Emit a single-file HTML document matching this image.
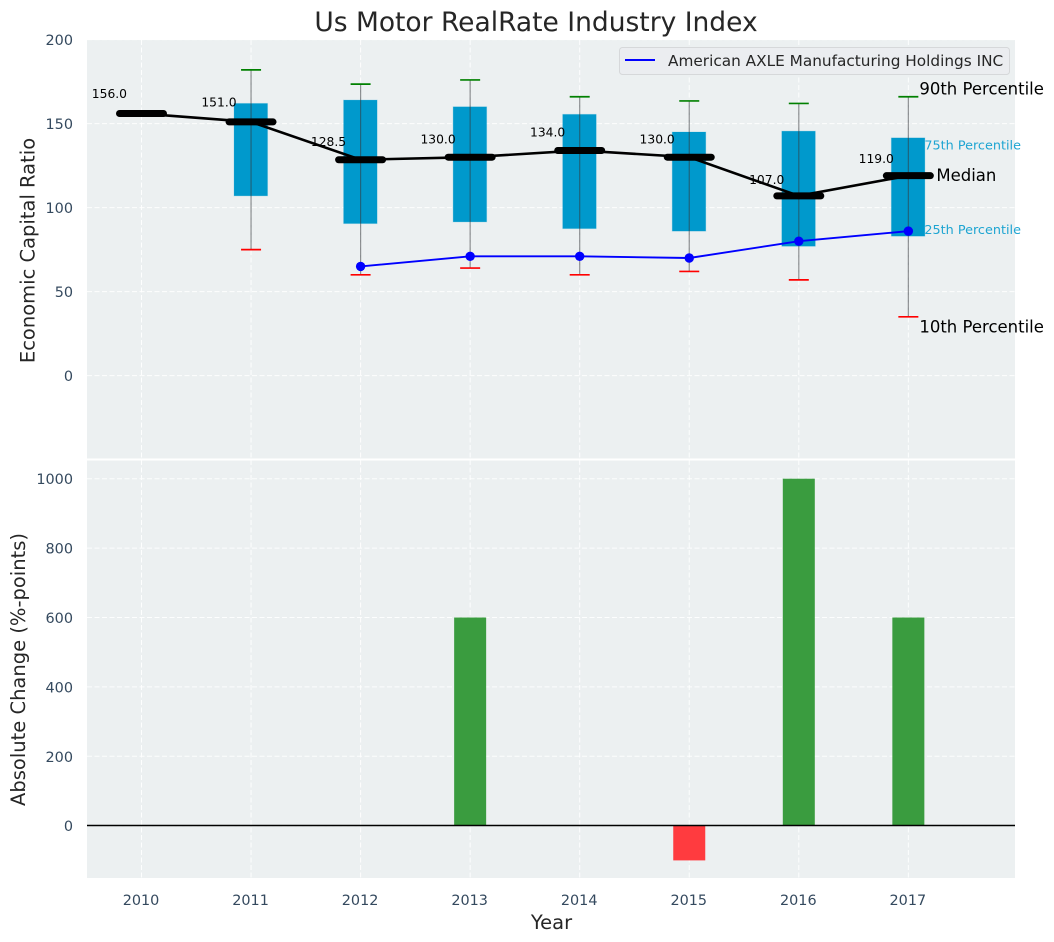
<!DOCTYPE html>
<html>
<head>
<meta charset="utf-8">
<title>Us Motor RealRate Industry Index</title>
<style>
html,body{margin:0;padding:0;background:#fff;}
svg{display:block;font-family:"DejaVu Sans","Liberation Sans",sans-serif;}
</style>
</head>
<body>
<svg id="chart" width="1054" height="942" viewBox="0 0 1054 942" xmlns="http://www.w3.org/2000/svg">
  <rect x="87" y="40" width="928" height="419" fill="#ecf0f1"/>
  <rect x="87" y="460" width="928" height="418" fill="#ecf0f1"/>
  <g id="grid"></g>
  <g id="bars"></g>
  <g id="boxes"></g>
  <g id="lines"></g>
  <g id="labels"></g>
  <g id="ticks"></g>
  <line x1="87" x2="1015" y1="459.5" y2="459.5" stroke="#ffffff" stroke-width="2"/>
  <text x="536" y="31" text-anchor="middle" font-size="26.5" fill="#262626">Us Motor RealRate Industry Index</text>
  <text transform="translate(34.5,250.5) rotate(-90)" text-anchor="middle" font-size="19.5" fill="#262626">Economic Capital Ratio</text>
  <text transform="translate(25,669.5) rotate(-90)" text-anchor="middle" font-size="19.5" fill="#262626">Absolute Change (%-points)</text>
  <text x="551.5" y="929" text-anchor="middle" font-size="19.5" fill="#262626">Year</text>
  <g>
    <rect x="619.5" y="47.5" width="390" height="27" rx="3" fill="#ebedf0" stroke="#d6d8da" stroke-width="1"/>
    <line x1="625" x2="655" y1="60" y2="60" stroke="#0000ff" stroke-width="2"/>
    <text x="668" y="66" font-size="15.3" fill="#262626">American AXLE Manufacturing Holdings INC</text>
  </g>
</svg>
<script>
var years = [2010, 2011, 2012, 2013, 2014, 2015, 2016, 2017];
var medians = [156, 151, 128.5, 130, 134, 130, 107, 119];
var p90 = [null, 182, 173.5, 176, 166, 163.5, 162, 166];
var p75 = [null, 162, 164, 160, 155.5, 145, 145.5, 141.5];
var p25 = [null, 107, 90.5, 91.5, 87.5, 86, 77, 83];
var p10 = [null, 75, 60, 64, 60, 62, 57, 35];
var company = [null, null, 65, 71, 71, 70, 80, 86];
var changes = [0, 0, 0, 600, 0, -100, 1000, 600];
var topTicks = [0, 50, 100, 150, 200];
var bottomTicks = [0, 200, 400, 600, 800, 1000];

var NS = 'http://www.w3.org/2000/svg';
function xScale(year) { return 141.5 + (year - 2010) * 109.55; }
function yTop(v) { return 375.6 - v * 1.68; }
function yBottom(v) { return 825.7 - v * 0.347; }
function yLabel(v) { return 375.6 - v * 1.755 - 4; }
function make(parent, tag, attrs, text) {
  var el = document.createElementNS(NS, tag);
  for (var k in attrs) { el.setAttribute(k, attrs[k]); }
  if (text !== undefined) { el.textContent = text; }
  document.getElementById(parent).appendChild(el);
  return el;
}

var GRID = { stroke: '#ffffff', 'stroke-width': 1, 'stroke-dasharray': '5 2.5', 'stroke-opacity': 0.9 };
function gridLine(x1, y1, x2, y2) {
  var a = { x1: x1, y1: y1, x2: x2, y2: y2 };
  for (var k in GRID) { a[k] = GRID[k]; }
  return make('grid', 'line', a);
}

years.forEach(function (year) {
  var x = xScale(year);
  var v = gridLine(x, 40, x, 878);
  
  
  var t = make('ticks', 'text', { x: x - 0.5, y: 905, 'text-anchor': 'middle', 'font-size': 14.4, fill: '#34495e' }, String(year));
  
  
});

topTicks.forEach(function (tick) {
  var y = yTop(tick);
  var g = gridLine(87, y, 1015, y);
  
  
  var t = make('ticks', 'text', { x: 73, y: y + 5.5, 'text-anchor': 'end', 'font-size': 14.4, fill: '#34495e' }, String(tick));
  
  
});

bottomTicks.forEach(function (tick) {
  var y = yBottom(tick);
  var g = gridLine(87, y, 1015, y);
  
  
  var t = make('ticks', 'text', { x: 73, y: y + 5.5, 'text-anchor': 'end', 'font-size': 14.4, fill: '#34495e' }, String(tick));
  
  
});

changes.forEach(function (value, i) {
  if (!value) { return; }
  var x = xScale(years[i]);
  var y0 = yBottom(0);
  var y1 = yBottom(value);
  var bar = make('bars', 'rect', {
    x: x - 16, y: Math.min(y0, y1), width: 32, height: Math.abs(y1 - y0),
    fill: value > 0 ? '#3a9c3f' : '#ff3b3f'
  });
  
  
});
var zero = make('bars', 'line', { x1: 87, x2: 1015, y1: yBottom(0) - 0.2, y2: yBottom(0) - 0.2, stroke: '#000000', 'stroke-width': 1.5 });



years.forEach(function (year, i) {
  if (p75[i] === null) { return; }
  var x = xScale(year);
  var box = make('boxes', 'rect', {
    x: x - 17, y: yTop(p75[i]), width: 33.5, height: yTop(p25[i]) - yTop(p75[i]),
    fill: '#0099cc', stroke: '#0099cc', 'stroke-opacity': 0.2, 'stroke-width': 1
  });
  
  
  var whisker = make('boxes', 'line', {
    x1: x, x2: x, y1: yTop(p90[i]), y2: yTop(p10[i]), stroke: '#34393c', 'stroke-opacity': 0.55, 'stroke-width': 1.2
  });
  
  
  var hi = make('boxes', 'line', {
    x1: x - 10, x2: x + 10, y1: yTop(p90[i]), y2: yTop(p90[i]), stroke: '#008000', 'stroke-width': 1.7
  });
  
  
  var lo = make('boxes', 'line', {
    x1: x - 10, x2: x + 10, y1: yTop(p10[i]), y2: yTop(p10[i]), stroke: '#ff0000', 'stroke-width': 1.7
  });
  
  
});

var medianPts = years.map(function (year, i) { return xScale(year) + ',' + yTop(medians[i]); }).join(' ');
var medianLine = make('lines', 'polyline', { points: medianPts, fill: 'none', stroke: '#000000', 'stroke-width': 2.6 });



years.forEach(function (year, i) {
  var x = xScale(year);
  var y = yTop(medians[i]);
  var seg = make('lines', 'line', { x1: x - 22, x2: x + 22, y1: y, y2: y, stroke: '#000000', 'stroke-width': 7, 'stroke-linecap': 'round' });
  
  
  var label = make('labels', 'text', { x: x - 49.7, y: yLabel(medians[i]), 'font-size': 12.3, fill: '#000000' }, medians[i].toFixed(1));
  
  
});

var companyPts = [];
years.forEach(function (year, i) {
  if (company[i] !== null) { companyPts.push(xScale(year) + ',' + yTop(company[i])); }
});
var companyLine = make('lines', 'polyline', { points: companyPts.join(' '), fill: 'none', stroke: '#0000ff', 'stroke-width': 1.9 });


years.forEach(function (year, i) {
  if (company[i] === null) { return; }
  var dot = make('lines', 'circle', { cx: xScale(year), cy: yTop(company[i]), r: 4.7, fill: '#0000ff' });
  
  
});

var last = years.length - 1;
var lastX = xScale(years[last]);
var a90 = make('labels', 'text', { x: lastX + 11, y: yTop(p90[last]) - 2, 'font-size': 16.5, fill: '#000000' }, '90th Percentile');


var a75 = make('labels', 'text', { x: lastX + 16, y: yTop(p75[last]) + 11.5, 'font-size': 12.8, fill: '#1ea5d2' }, '75th Percentile');


var aMed = make('labels', 'text', { x: lastX + 28, y: yTop(medians[last]) + 5.5, 'font-size': 16.5, fill: '#000000' }, 'Median');


var a25 = make('labels', 'text', { x: lastX + 16, y: yTop(p25[last]) - 2, 'font-size': 12.8, fill: '#1ea5d2' }, '25th Percentile');


var a10 = make('labels', 'text', { x: lastX + 11, y: yTop(p10[last]) + 15.5, 'font-size': 16.5, fill: '#000000' }, '10th Percentile');


</script>
</body>
</html>
